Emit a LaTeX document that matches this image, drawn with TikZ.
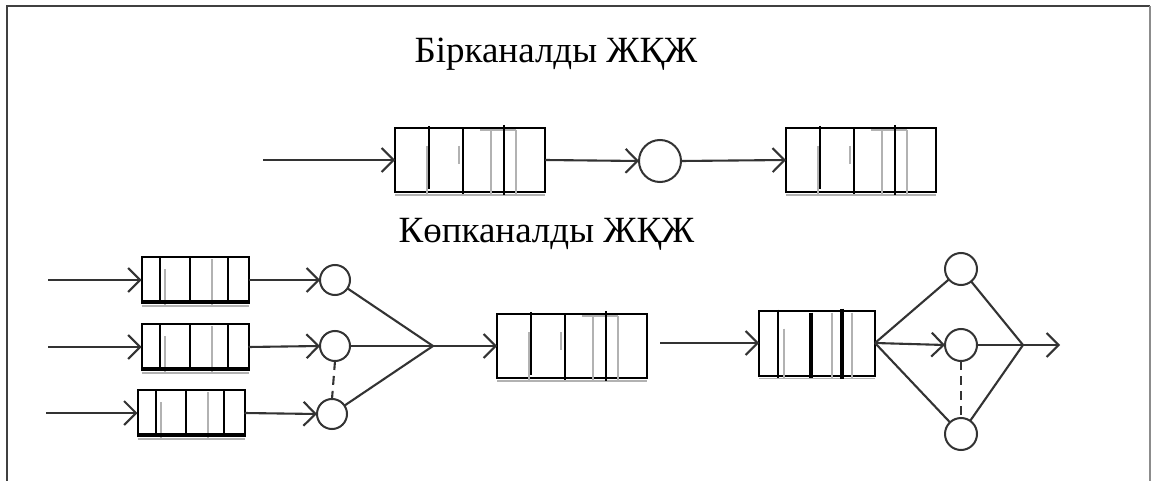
\documentclass[tikz,border=0pt]{standalone}
\usepackage{fontspec}
\setmainfont{Liberation Serif}
\usetikzlibrary{arrows.meta,calc}

\newcommand{\bigqlines}[1]{%
  \draw[black!30, line width=1.6pt] ([shift={(0,3)}]#1.south west) -- ([shift={(0,3)}]#1.south east);
  \draw[black!30, line width=2pt] ([shift={(32,18)}]#1.north west) -- ([shift={(32,67)}]#1.north west);
  \draw[black!30, line width=2pt] ([shift={(64,18)}]#1.north west) -- ([shift={(64,36)}]#1.north west);
  \draw[black!30, line width=2pt] ([shift={(96,2)}]#1.north west) -- ([shift={(96,67)}]#1.north west);
  \draw[black!30, line width=2pt] ([shift={(121,2)}]#1.north west) -- ([shift={(121,67)}]#1.north west);
  \draw[black!30, line width=2pt] ([shift={(85,2)}]#1.north west) -- ([shift={(121,2)}]#1.north west);
  \draw[black, line width=2pt] ([shift={(34,-2)}]#1.north west) -- ([shift={(34,61)}]#1.north west);
  \draw[black, line width=2pt] ([shift={(68,0)}]#1.north west) -- ([shift={(68,66)}]#1.north west);
  \draw[black, line width=2pt] ([shift={(109,-3)}]#1.north west) -- ([shift={(109,67)}]#1.north west);
}
\newcommand{\smallqlines}[1]{%
  \draw[black!30, line width=1.6pt] ([shift={(0,3)}]#1.south west) -- ([shift={(0,3)}]#1.south east);
  \draw[black!30, line width=2pt] ([shift={(23,12)}]#1.north west) -- ([shift={(23,48)}]#1.north west);
  \draw[black!30, line width=2pt] ([shift={(70,2)}]#1.north west) -- ([shift={(70,48)}]#1.north west);
  \draw[black, line width=2pt] ([shift={(18,0)}]#1.north west) -- ([shift={(18,46)}]#1.north west);
  \draw[black, line width=2pt] ([shift={(48,0)}]#1.north west) -- ([shift={(48,46)}]#1.north west);
  \draw[black, line width=2pt] ([shift={(86,0)}]#1.north west) -- ([shift={(86,46)}]#1.north west);
  \draw[black, line width=3.4pt] ([shift={(0,-1)}]#1.south west) -- ([shift={(0,-1)}]#1.south east);
}
\newcommand{\midqlines}[1]{%
  \draw[black!30, line width=1.6pt] ([shift={(0,3)}]#1.south west) -- ([shift={(0,3)}]#1.south east);
  \draw[black!30, line width=2pt] ([shift={(25,18)}]#1.north west) -- ([shift={(25,67)}]#1.north west);
  \draw[black!30, line width=2pt] ([shift={(73,2)}]#1.north west) -- ([shift={(73,68)}]#1.north west);
  \draw[black!30, line width=2pt] ([shift={(93,2)}]#1.north west) -- ([shift={(93,68)}]#1.north west);
  \draw[black, line width=2pt] ([shift={(19,-1)}]#1.north west) -- ([shift={(19,67)}]#1.north west);
  \draw[black, line width=3.2pt] ([shift={(52,2)}]#1.north west) -- ([shift={(52,67)}]#1.north west);
  \draw[black, line width=3.2pt] ([shift={(83,-2)}]#1.north west) -- ([shift={(83,68)}]#1.north west);
}

\begin{document}
\begin{tikzpicture}[x=1pt,y=-1pt,
  conn/.style={draw=black!80, line width=2.1pt},
  arr/.style={conn, -{Straight Barb[length=12pt,width=24pt,line width=2.1pt]}},
  qbig/.style={draw=black, line width=2pt, minimum width=150pt, minimum height=64pt, inner sep=0pt, outer sep=0pt},
  qsmall/.style={draw=black, line width=2pt, minimum width=107pt, minimum height=46pt, inner sep=0pt, outer sep=0pt},
  qmid/.style={draw=black, line width=2pt, minimum width=116pt, minimum height=65pt, inner sep=0pt, outer sep=0pt},
  srv/.style={circle, draw=black!80, line width=2pt, inner sep=0pt, outer sep=0pt},
  title/.style={font=\fontsize{37}{44}\selectfont, inner sep=0pt, anchor=base}
]
\useasboundingbox (0,0) rectangle (1151,481);
\fill[white] (0,0) rectangle (1151,481);
% frame
\draw[black!75, line width=2pt] (7,481) -- (7,6) -- (1150,6);
\draw[black!45, line width=2pt] (1150,6) -- (1150,481);

% titles
\node[title] (t1) at (556,63) {Бірканалды ЖҚЖ};
\node[title] (t2) at (546.5,242) {Көпканалды ЖҚЖ};

% single-channel
\coordinate (in0) at (263,160);
\node[qbig] (b1) at (470,160) {};
\node[srv, minimum size=42pt] (c0) at (660,161) {};
\node[qbig] (b2) at (861,160) {};
\bigqlines{b1}
\bigqlines{b2}
\draw[arr] (in0) -- (b1.west);
\draw[arr] (b1.east) -- (c0.west);
\draw[arr] (c0.east) -- (b2.west);

% multi-channel, left part
\coordinate (in1) at (48,280);
\coordinate (in2) at (48,347);
\coordinate (in3) at (46,413);
\node[qsmall] (s1) at (195,280) {};
\node[qsmall] (s2) at (195,347) {};
\node[qsmall] (s3) at (191,413) {};
\smallqlines{s1}
\smallqlines{s2}
\smallqlines{s3}
\node[srv, minimum size=30pt] (c1) at (335,280) {};
\node[srv, minimum size=30pt] (c2) at (335,346) {};
\node[srv, minimum size=30pt] (c3) at (332,414) {};
\draw[arr] (in1) -- (s1.west);
\draw[arr] (in2) -- (s2.west);
\draw[arr] (in3) -- (s3.west);
\draw[arr] (s1.east) -- (c1.west);
\draw[arr] (s2.east) -- (c2.west);
\draw[arr] (s3.east) -- (c3.west);
\draw[conn, dashed, dash pattern=on 9pt off 6pt] (c2.south) -- (c3.north);
\coordinate (j1) at (433,346);
\draw[conn] (c1) -- (j1);
\draw[conn] (c2) -- (j1);
\draw[conn] (c3) -- (j1);
\node[qbig] (b4) at (572,346) {};
\bigqlines{b4}
\draw[arr] (j1) -- (b4.west);

% multi-channel, right part
\coordinate (in5) at (660,343);
\node[qmid] (b5) at (817,343) {};
\midqlines{b5}
\draw[arr] (in5) -- (b5.west);
\node[srv, minimum size=32pt] (c5) at (961,269) {};
\node[srv, minimum size=32pt] (c6) at (961,345) {};
\node[srv, minimum size=32pt] (c7) at (961,434) {};
\coordinate (j2) at (1023,345);
\coordinate (out) at (1060,345);
\draw[conn] (b5.east) -- (c5);
\draw[conn] (b5.east) -- (c7);
\draw[arr] (b5.east) -- (c6.west);
\draw[conn, dashed, dash pattern=on 9pt off 6pt] (c6.south) -- (c7.north);
\draw[conn] (c5) -- (j2);
\draw[conn] (c7) -- (j2);
\draw[conn] (c6) -- (j2);
\draw[arr] (j2) -- (out);
\end{tikzpicture}
\end{document}
